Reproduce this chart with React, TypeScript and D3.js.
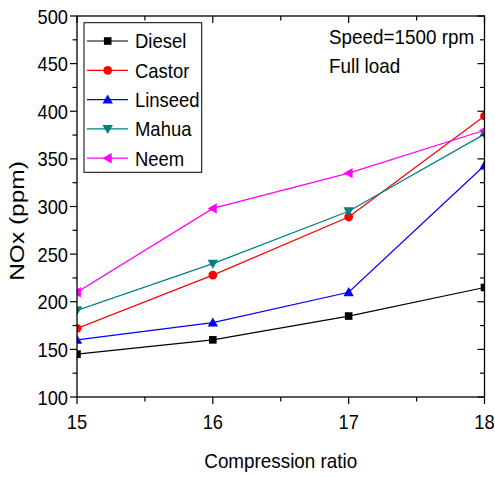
import React from "react";
import * as d3 from "d3";

const ratios = [15, 16, 17, 18];
const diesel = [145, 160, 185, 215];
const castor = [172, 228, 289, 395];
const linseed = [160, 178, 210, 343];
const mahua = [191, 240, 295, 376];
const neem = [210, 298, 335, 380];

const seriesNames = ["Diesel", "Castor", "Linseed", "Mahua", "Neem"];
const seriesColors = ["#000000", "#ff0000", "#0000ff", "#008080", "#ff00ff"];
const seriesShapes = ["square", "circle", "up", "down", "left"];
const seriesValues = [diesel, castor, linseed, mahua, neem];

const yTicks = [100, 150, 200, 250, 300, 350, 400, 450, 500];
const yMinor = [125, 175, 225, 275, 325, 375, 425, 475];
const xMinor = [15.5, 16.5, 17.5];

const W = 495;
const H = 477;
const M = { left: 77, right: 484.5, top: 16, bottom: 397 };
const FONT = "'Liberation Sans', Arial, sans-serif";

const x = d3.scaleLinear().domain([15, 18]).range([M.left, M.right]);
const y = d3.scaleLinear().domain([100, 500]).range([M.bottom, M.top]);

// Text drawn with independent horizontal/vertical scale factors (screen axes)
function T({
  x: tx,
  y: ty,
  size,
  anchor = "start",
  rotate = 0,
  sx = 0.9,
  sy = 1,
  children,
}: {
  x: number;
  y: number;
  size: number;
  anchor?: "start" | "middle" | "end";
  rotate?: number;
  sx?: number;
  sy?: number;
  children: React.ReactNode;
}) {
  return (
    <text
      transform={`translate(${tx},${ty}) rotate(${rotate}) scale(${sx},${sy})`}
      fontSize={size}
      textAnchor={anchor}
    >
      {children}
    </text>
  );
}

function Marker({ shape, cx, cy, color }: { shape: string; cx: number; cy: number; color: string }) {
  if (shape === "square") {
    return <rect x={cx - 3.8} y={cy - 3.8} width={7.6} height={7.6} fill={color} />;
  }
  if (shape === "circle") {
    return <circle cx={cx} cy={cy} r={4.4} fill={color} />;
  }
  const s = 5.2;
  let pts: [number, number][] = [];
  if (shape === "up") pts = [[cx, cy - s], [cx + s, cy + s * 0.75], [cx - s, cy + s * 0.75]];
  if (shape === "down") pts = [[cx, cy + s], [cx + s, cy - s * 0.75], [cx - s, cy - s * 0.75]];
  if (shape === "left") pts = [[cx - s, cy], [cx + s * 0.75, cy - s], [cx + s * 0.75, cy + s]];
  return <polygon points={pts.map((p) => p.join(",")).join(" ")} fill={color} />;
}

export default function App() {
  const line = d3
    .line<number>()
    .x((_, i) => x(ratios[i]))
    .y((v) => y(v));

  const legendX = 84;
  const legendY = 22.7;
  const rowGap = 29.3;

  return (
    <svg width={W} height={H} style={{ position: "absolute", left: 0, top: 0 }} fontFamily={FONT}>
      <rect width={W} height={H} fill="#fff" />
      <defs>
        <clipPath id="plot">
          <rect x={M.left} y={M.top} width={M.right - M.left} height={M.bottom - M.top} />
        </clipPath>
      </defs>

      <g clipPath="url(#plot)">
        {seriesValues.map((vals, si) => (
          <g key={seriesNames[si]}>
            <path d={line(vals) || ""} fill="none" stroke={seriesColors[si]} strokeWidth={1.2} />
            {vals.map((v, i) => (
              <Marker key={i} shape={seriesShapes[si]} cx={x(ratios[i])} cy={y(v)} color={seriesColors[si]} />
            ))}
          </g>
        ))}
      </g>

      {/* frame */}
      <rect x={M.left} y={M.top} width={M.right - M.left} height={M.bottom - M.top} fill="none" stroke="#000" strokeWidth={1.3} />

      {/* left axis ticks and labels, mirrored ticks on the right */}
      {yTicks.map((t) => (
        <g key={"yl" + t}>
          <line x1={M.left - 7} x2={M.left} y1={y(t)} y2={y(t)} stroke="#000" strokeWidth={1.2} />
          <line x1={M.right} x2={M.right - 7} y1={y(t)} y2={y(t)} stroke="#000" strokeWidth={1.2} />
          <T x={M.left - 9} y={y(t) + 7.5} size={21} anchor="end" sx={0.87}>
            {t}
          </T>
        </g>
      ))}
      {yMinor.map((t) => (
        <g key={"ym" + t}>
          <line x1={M.left - 4.5} x2={M.left} y1={y(t)} y2={y(t)} stroke="#000" strokeWidth={1.2} />
          <line x1={M.right} x2={M.right - 4.5} y1={y(t)} y2={y(t)} stroke="#000" strokeWidth={1.2} />
        </g>
      ))}

      {/* bottom axis ticks and labels, mirrored ticks on top */}
      {ratios.map((t) => (
        <g key={"x" + t}>
          <line x1={x(t)} x2={x(t)} y1={M.bottom} y2={M.bottom + 7} stroke="#000" strokeWidth={1.2} />
          <line x1={x(t)} x2={x(t)} y1={M.top} y2={M.top + 7} stroke="#000" strokeWidth={1.2} />
          <T x={x(t)} y={429} size={21} anchor="middle" sx={0.87}>
            {t}
          </T>
        </g>
      ))}
      {xMinor.map((t) => (
        <g key={"xm" + t}>
          <line x1={x(t)} x2={x(t)} y1={M.bottom} y2={M.bottom + 4.5} stroke="#000" strokeWidth={1.2} />
          <line x1={x(t)} x2={x(t)} y1={M.top} y2={M.top + 4.5} stroke="#000" strokeWidth={1.2} />
        </g>
      ))}

      {/* axis titles */}
      <T x={(M.left + M.right) / 2} y={468} size={20.5} anchor="middle" sx={0.92}>
        Compression ratio
      </T>
      <T x={24} y={221} size={24.5} anchor="middle" rotate={-90} sx={1} sy={0.85}>
        NOx (ppm)
      </T>

      {/* annotation */}
      <T x={329} y={43.5} size={20.5} sx={0.92}>
        Speed=1500 rpm
      </T>
      <T x={329} y={72.5} size={20.5} sx={0.92}>
        Full load
      </T>

      {/* legend */}
      <rect x={legendX} y={legendY} width={117.7} height={149.6} fill="#fff" stroke="#000" strokeWidth={1} />
      {seriesNames.map((name, i) => {
        const cy = legendY + 18.3 + i * rowGap;
        return (
          <g key={"lg" + name}>
            <line x1={87} x2={128} y1={cy} y2={cy} stroke={seriesColors[i]} strokeWidth={1.2} />
            <Marker shape={seriesShapes[i]} cx={107.7} cy={cy} color={seriesColors[i]} />
            <T x={135} y={cy + 7.3} size={20.5} sx={0.9}>
              {name}
            </T>
          </g>
        );
      })}
    </svg>
  );
}
